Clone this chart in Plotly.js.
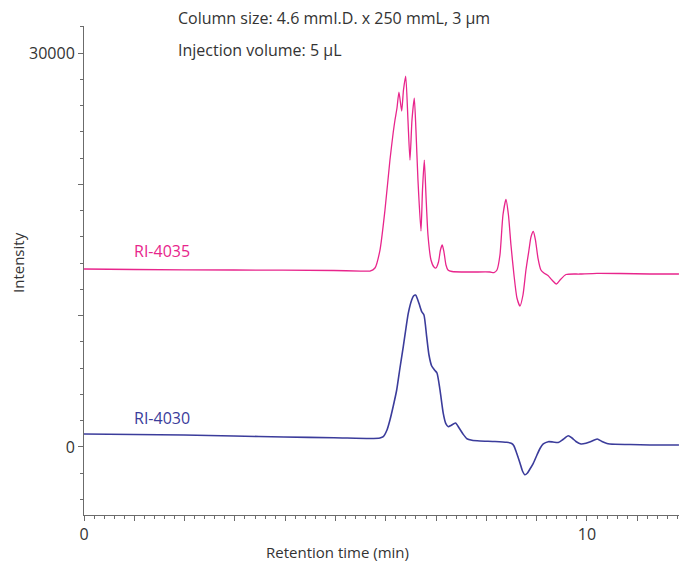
<!DOCTYPE html>
<html>
<head>
<meta charset="utf-8">
<script src="https://cdn.plot.ly/plotly-3.0.1.min.js"></script>
<style>html,body{margin:0;padding:0;background:#fff;}#chart{width:679px;height:564px;}</style>
</head>
<body>
<div id="chart"></div>
<script>
// Retention time (min) and intensity for RI-4035 (pink)
const t4035 = [0, 0.994, 2.982, 4.970, 5.5, 5.686, 5.785, 5.885, 5.984, 6.083, 6.149, 6.183, 6.223, 6.262, 6.316, 6.352, 6.396, 6.441, 6.481, 6.521, 6.567, 6.600, 6.640, 6.700, 6.730, 6.766, 6.799, 6.839, 6.899, 6.958, 6.998, 7.048, 7.087, 7.123, 7.157, 7.197, 7.237, 7.316, 7.674, 8.072, 8.151, 8.211, 8.270, 8.330, 8.390, 8.439, 8.489, 8.549, 8.608, 8.668, 8.728, 8.787, 8.847, 8.887, 8.933, 8.976, 9.026, 9.085, 9.145, 9.225, 9.304, 9.394, 9.483, 9.583, 9.861, 10.199, 10.656, 11.252, 11.829];
const v4035 = [13553, 13515, 13477, 13440, 13400, 13400, 13630, 15000, 18046, 21853, 23985, 24899, 25813, 27031, 25584, 27184, 28250, 24899, 21853, 24899, 26574, 24137, 20331, 16447, 19570, 21853, 19190, 16143, 14239, 13706, 13630, 14087, 15000, 15381, 14848, 13858, 13477, 13363, 13325, 13325, 13287, 13477, 14620, 17665, 18846, 17665, 15381, 13097, 11346, 10736, 11574, 13477, 15000, 15990, 16409, 15762, 14391, 13477, 13249, 13058, 12716, 12411, 12792, 13135, 13173, 13224, 13211, 13173, 13173];
// Retention time (min) and intensity for RI-4030 (blue)
const t4030 = [0, 0.994, 1.988, 2.982, 3.976, 4.970, 5.686, 5.885, 5.950, 6.024, 6.083, 6.149, 6.217, 6.282, 6.348, 6.402, 6.447, 6.515, 6.551, 6.594, 6.630, 6.660, 6.714, 6.759, 6.813, 6.859, 6.913, 6.968, 7.018, 7.078, 7.143, 7.197, 7.243, 7.296, 7.386, 7.461, 7.535, 7.614, 7.714, 7.873, 8.171, 8.404, 8.503, 8.549, 8.603, 8.668, 8.718, 8.767, 8.817, 8.867, 8.933, 9.006, 9.066, 9.131, 9.231, 9.324, 9.429, 9.523, 9.628, 9.702, 9.781, 9.881, 9.980, 10.080, 10.205, 10.298, 10.398, 10.557, 10.855, 11.252, 11.829];
const v4030 = [990, 952, 914, 838, 761, 708, 647, 685, 784, 1294, 2056, 3122, 4340, 6015, 7637, 9061, 10180, 11193, 11498, 11574, 11269, 10942, 10302, 10051, 8399, 7005, 6168, 5863, 5635, 4340, 2566, 1751, 1546, 1637, 1827, 1424, 990, 624, 510, 457, 419, 358, 267, 76, -480, -1218, -1827, -2117, -1980, -1675, -1241, -609, -114, 228, 404, 381, 343, 571, 860, 685, 419, 228, 282, 419, 609, 419, 267, 206, 190, 152, 152];

const seriesNames = ["RI-4035", "RI-4030"];
const xTickVals = [0,1,2,3,4,5,6,7,8,9,10,11];
const xTickText = ["0","","","","","","","","","","10",""];
const yTickVals = [0, 10000, 20000, 30000];
const yTickText = ["0", "", "", "30000"];
const notes = ["Column size: 4.6 mmI.D. x 250 mmL, 3 µm", "Injection volume: 5 µL"];
const axisTitles = ["Retention time (min)", "Intensity"];

const pink = "#e8258c";
const blue = "#3b3c9b";
const axisCol = "#6b6b6b";
const font = "'Open Sans', Inter, sans-serif";
const txt = {family: font, size: 16, color: "#333"};
const txtTitle = {family: font, size: 15, color: "#333"};

const traces = [
  {x: t4035, y: v4035, mode: "lines", line: {color: pink, width: 1.3, shape: "spline", smoothing: 0.6}, name: seriesNames[0], hoverinfo: "skip"},
  {x: t4030, y: v4030, mode: "lines", line: {color: blue, width: 1.6, shape: "spline", smoothing: 0.6}, name: seriesNames[1], hoverinfo: "skip"}
];

const W = 595, H = 489;
const layout = {
  width: 679, height: 564,
  margin: {l: 84, r: 0, t: 26, b: 49},
  paper_bgcolor: "#fff", plot_bgcolor: "#fff",
  showlegend: false,
  font: txt,
  xaxis: {
    range: [0, 11.83], showgrid: false, zeroline: false,
    showline: true, linecolor: axisCol, linewidth: 1,
    tickmode: "array", tickvals: xTickVals, ticktext: xTickText,
    ticks: "outside", ticklen: 5, tickcolor: axisCol, tickwidth: 1,
    tickfont: txt,
    minor: {dtick: 0.2, tick0: 0, ticks: "outside", ticklen: 3, tickcolor: axisCol, showgrid: false}
  },
  yaxis: {
    range: [-5180, 32060], showgrid: false, zeroline: false,
    showline: true, linecolor: axisCol, linewidth: 1,
    tickmode: "array", tickvals: yTickVals, ticktext: yTickText,
    ticks: "outside", ticklen: 5, tickcolor: axisCol, tickwidth: 1,
    tickfont: txt,
    minor: {dtick: 2000, tick0: 0, ticks: "outside", ticklen: 3, tickcolor: axisCol, showgrid: false}
  },
  annotations: [
    {xref: "paper", yref: "paper", x: (176-84)/W, y: (564-18-49)/H, xanchor: "left", yanchor: "middle", text: notes[0], showarrow: false, font: txt},
    {xref: "paper", yref: "paper", x: (176-84)/W, y: (564-50-49)/H, xanchor: "left", yanchor: "middle", text: notes[1], showarrow: false, font: txt},
    {xref: "paper", yref: "paper", x: (337-84)/W, y: (564-552-49)/H, xanchor: "center", yanchor: "middle", text: axisTitles[0], showarrow: false, font: txtTitle},
    {xref: "paper", yref: "paper", x: (18-84)/W, y: (564-263-49)/H, xanchor: "center", yanchor: "middle", text: axisTitles[1], textangle: -90, showarrow: false, font: txtTitle},
    {xref: "x", yref: "y", x: 1.55, y: 14924, xanchor: "center", yanchor: "middle", text: seriesNames[0], showarrow: false, font: {family: font, size: 16, color: pink}},
    {xref: "x", yref: "y", x: 1.55, y: 2208, xanchor: "center", yanchor: "middle", text: seriesNames[1], showarrow: false, font: {family: font, size: 16, color: blue}}
  ]
};

Plotly.newPlot("chart", traces, layout, {staticPlot: true, displayModeBar: false});
</script>
</body>
</html>
